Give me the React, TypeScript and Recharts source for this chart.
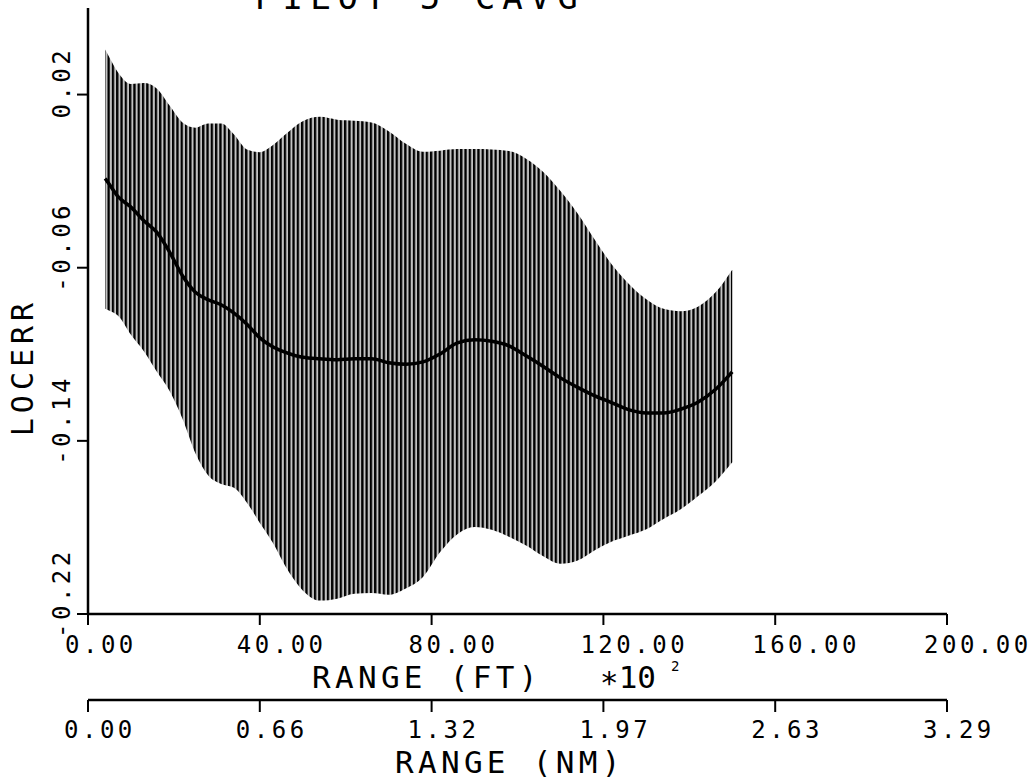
import { Area, ComposedChart, Line, XAxis, YAxis } from "recharts";

// range in hundreds of feet
const rangeFt = [
  4, 5, 7, 10, 13, 16, 19, 22, 25, 28, 31, 34, 37, 40, 43, 46, 50, 54, 58, 62, 66,
  70, 74, 78, 82, 86, 90, 94, 98, 102, 106, 110, 114, 118, 122, 126, 130, 134, 138,
  142, 146, 150,
];
const upperErr = [
  0.0408, 0.0371, 0.0302, 0.0249, 0.0253, 0.0228, 0.0149, 0.0071, 0.0047, 0.0066,
  0.0066, 0.0015, -0.0054, -0.0066, -0.0034, 0.0017, 0.0077, 0.0097, 0.0084, 0.0079,
  0.0071, 0.0031, -0.0027, -0.0064, -0.0059, -0.0052, -0.0052, -0.0054, -0.0061,
  -0.0096, -0.0158, -0.0246, -0.035, -0.0471, -0.0586, -0.0676, -0.0746, -0.079,
  -0.0801, -0.078, -0.0716, -0.0609,
];
const lowerErr = [
  -0.079, -0.0799, -0.0822, -0.091, -0.0986, -0.108, -0.117, -0.1298, -0.1457, -0.156,
  -0.1599, -0.1617, -0.1686, -0.1779, -0.187, -0.1981, -0.2091, -0.2138, -0.2129,
  -0.2107, -0.2103, -0.2111, -0.2082, -0.2029, -0.1914, -0.1831, -0.1798, -0.1811,
  -0.1843, -0.1884, -0.1933, -0.1968, -0.1953, -0.1905, -0.1865, -0.1837, -0.1808,
  -0.1761, -0.1716, -0.1656, -0.159, -0.1499,
];
const meanErr = [
  -0.0188, -0.0216, -0.0272, -0.032, -0.0383, -0.0436, -0.0528, -0.0637, -0.0713,
  -0.0748, -0.0771, -0.081, -0.0861, -0.0924, -0.0965, -0.0991, -0.1014, -0.1021,
  -0.1025, -0.1021, -0.1021, -0.1039, -0.1046, -0.1035, -0.0998, -0.0947, -0.0933,
  -0.094, -0.0961, -0.1007, -0.1056, -0.1109, -0.1153, -0.1192, -0.1224, -0.1257,
  -0.1271, -0.1271, -0.1254, -0.1222, -0.1164, -0.1081,
];

const xTicks = [0, 40, 80, 120, 160, 200];
const ftLabels = ["0.00", "40.00", "80.00", "120.00", "160.00", "200.00"];
const nmLabels = ["0.00", "0.66", "1.32", "1.97", "2.63", "3.29"];
const yTicks = [0.02, -0.06, -0.14, -0.22];
const yLabels = ["0.02", "-0.06", "-0.14", "-0.22"];

const data = rangeFt.map((x, i) => ({
  x,
  band: [lowerErr[i], upperErr[i]],
  mean: meanErr[i],
}));

const font = "'DejaVu Sans Mono', monospace";

const FtTick = (props: any) => (
  <text
    x={props.x - 23}
    y={props.y + 26}
    fontFamily={font}
    fontSize={24}
    letterSpacing={3.5}
    fill="#000"
  >
    {ftLabels[props.index]}
  </text>
);

const NmTick = (props: any) => (
  <text
    x={props.x - 24}
    y={props.y + 24}
    fontFamily={font}
    fontSize={24}
    letterSpacing={3.5}
    fill="#000"
  >
    {nmLabels[props.index]}
  </text>
);

const YTick = (props: any) => (
  <text
    transform={`translate(70, ${props.y + 24}) rotate(-90)`}
    fontFamily={font}
    fontSize={24}
    letterSpacing={3.5}
    fill="#000"
  >
    {yLabels[props.index]}
  </text>
);

export default function App() {
  return (
    <div style={{ position: "absolute", left: 0, top: 0, width: 1034, height: 782, background: "#fff" }}>
      <ComposedChart
        width={1034}
        height={782}
        data={data}
        margin={{ top: 8, right: 87, left: 0, bottom: 0 }}
      >
        <defs>
          <pattern id="hatch" patternUnits="userSpaceOnUse" width={4.3} height={8}>
            <rect width={4.3} height={8} fill="#c2c2c2" />
            <rect width={2.3} height={8} fill="#000" />
          </pattern>
        </defs>
        <XAxis
          xAxisId="ft"
          dataKey="x"
          type="number"
          domain={[0, 200]}
          ticks={xTicks}
          height={86}
          tickSize={11}
          axisLine={{ stroke: "#000", strokeWidth: 2.5 }}
          tickLine={{ stroke: "#000", strokeWidth: 2 }}
          tick={FtTick}
          interval={0}
        />
        <XAxis
          xAxisId="nm"
          dataKey="x"
          type="number"
          domain={[0, 200]}
          ticks={xTicks}
          height={82}
          tickSize={12}
          axisLine={{ stroke: "#000", strokeWidth: 2.5 }}
          tickLine={{ stroke: "#000", strokeWidth: 2 }}
          tick={NmTick}
          interval={0}
        />
        <YAxis
          type="number"
          domain={[-0.22, 0.06]}
          ticks={yTicks}
          width={88}
          tickSize={11}
          axisLine={{ stroke: "#000", strokeWidth: 2.5 }}
          tickLine={{ stroke: "#000", strokeWidth: 2 }}
          tick={YTick}
          interval={0}
        />
        <Area
          xAxisId="ft"
          dataKey="band"
          type="monotone"
          stroke="none"
          fill="url(#hatch)"
          fillOpacity={1}
          isAnimationActive={false}
          activeDot={false}
        />
        <Line
          xAxisId="ft"
          dataKey="mean"
          type="monotone"
          stroke="#000"
          strokeWidth={3.5}
          dot={false}
          activeDot={false}
          isAnimationActive={false}
        />
      </ComposedChart>
      <svg
        width={1034}
        height={782}
        style={{ position: "absolute", left: 0, top: 0, pointerEvents: "none" }}
      >
        <text x={255} y={9} fontFamily={font} fontSize={34} letterSpacing={7} fill="#000">
          PILOT 5 CAVG
        </text>
        <text
          transform="translate(33, 367) rotate(-90)"
          textAnchor="middle"
          fontFamily={font}
          fontSize={30}
          letterSpacing={5}
          fill="#000"
        >
          LOCERR
        </text>
        <text x={312} y={688} fontFamily={font} fontSize={31} letterSpacing={4.3} fill="#000">
          RANGE (FT)
        </text>
        <text x={600} y={688} fontFamily={font} fontSize={31} fill="#000">
          ∗10
        </text>
        <text x={671} y={671} fontFamily={font} fontSize={14} fill="#000">
          2
        </text>
        <text x={395} y={773} fontFamily={font} fontSize={31} letterSpacing={4.3} fill="#000">
          RANGE (NM)
        </text>
      </svg>
    </div>
  );
}
